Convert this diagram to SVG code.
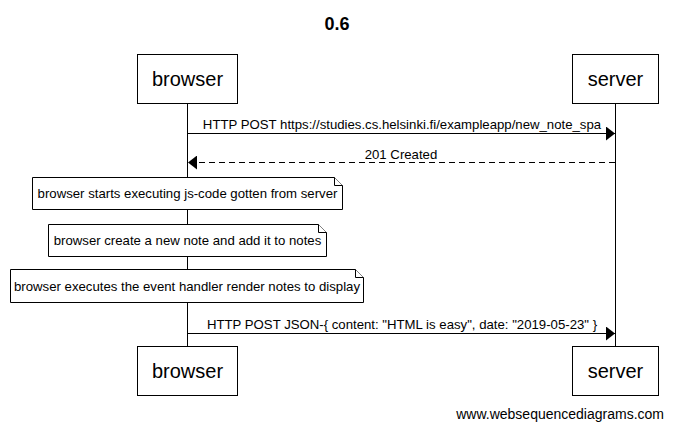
<svg xmlns="http://www.w3.org/2000/svg" width="673" height="429" viewBox="0 0 673 429">
<style>
.box{fill:#fff;stroke:#000;stroke-width:1}
.life{stroke:#000;stroke-width:1}
.actor{font-family:"Liberation Sans",Arial,sans-serif;font-size:20px;text-anchor:middle}
.lbl{font-family:"Liberation Sans",Arial,sans-serif;font-size:13.2px;text-anchor:middle}
.msg{stroke:#000;stroke-width:1;fill:none}
.dash{stroke-dasharray:6,4}
.note{fill:#fff;stroke:#000;stroke-width:1}
</style>
<defs>
<marker id="ah" markerWidth="10" markerHeight="14" refX="9" refY="7" orient="auto" markerUnits="userSpaceOnUse">
<path d="M0,0 L9,7 L0,14 Z" fill="#000"/>
</marker>
</defs>
<rect width="673" height="429" fill="#fff"/>
<text x="337" y="30" font-family="Liberation Sans,Arial,sans-serif" font-size="18" font-weight="bold" text-anchor="middle">0.6</text>
<g id="lifelines">
<line class="life" x1="187.5" y1="103" x2="187.5" y2="346"/>
<line class="life" x1="615.5" y1="103" x2="615.5" y2="346"/>
</g>
<g id="browser-top"><rect class="box" x="137.5" y="54.5" width="100" height="49"/><text class="actor" x="187.5" y="86">browser</text></g>
<g id="server-top"><rect class="box" x="572.5" y="54.5" width="86" height="49"/><text class="actor" x="615.5" y="86">server</text></g>
<g id="browser-bottom"><rect class="box" x="137.5" y="346.5" width="100" height="49"/><text class="actor" x="187.5" y="378">browser</text></g>
<g id="server-bottom"><rect class="box" x="572.5" y="346.5" width="86" height="49"/><text class="actor" x="615.5" y="378">server</text></g>
<g id="connectors">
<line class="msg" x1="188" y1="133.5" x2="615" y2="133.5" marker-end="url(#ah)"/>
<text class="lbl" x="402" y="129">HTTP POST https://studies.cs.helsinki.fi/exampleapp/new_note_spa</text>
<line class="msg dash" x1="615" y1="162.5" x2="188" y2="162.5" marker-end="url(#ah)"/>
<text class="lbl" x="401" y="159">201 Created</text>
<line class="msg" x1="188" y1="333.5" x2="615" y2="333.5" marker-end="url(#ah)"/>
<text class="lbl" x="402" y="329">HTTP POST JSON-{ content: "HTML is easy", date: "2019-05-23" }</text>
</g>
<g id="note1">
<path class="note" d="M32.5,177.5 H334.5 L342.5,185.5 V209.5 H32.5 Z"/>
<path class="note" d="M334.5,177.5 V185.5 H342.5" fill="none"/>
<text class="lbl" x="187.5" y="198">browser starts executing js-code gotten from server</text>
</g>
<g id="note2">
<path class="note" d="M48.5,224.5 H318.5 L326.5,232.5 V256.5 H48.5 Z"/>
<path class="note" d="M318.5,224.5 V232.5 H326.5" fill="none"/>
<text class="lbl" x="187.5" y="245">browser create a new note and add it to notes</text>
</g>
<g id="note3">
<path class="note" d="M10.5,269.5 H355.5 L363.5,277.5 V302.5 H10.5 Z"/>
<path class="note" d="M355.5,269.5 V277.5 H363.5" fill="none"/>
<text class="lbl" x="187" y="291">browser executes the event handler render notes to display</text>
</g>
<text x="664" y="419" font-family="Liberation Sans,Arial,sans-serif" font-size="14" text-anchor="end">www.websequencediagrams.com</text>
</svg>
